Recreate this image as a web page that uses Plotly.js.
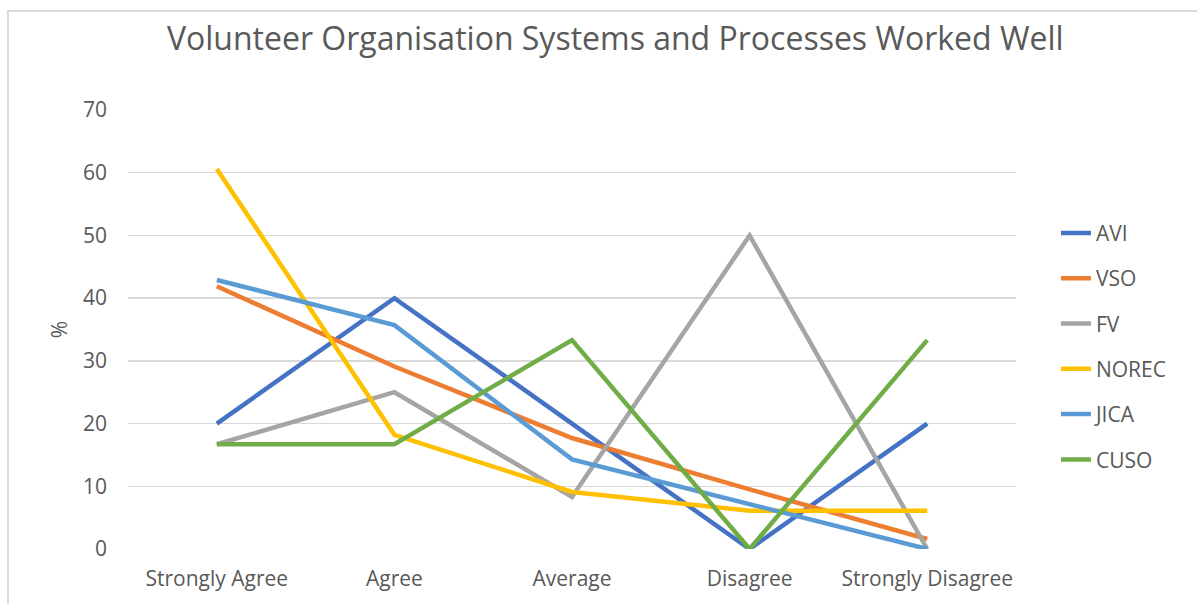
<!DOCTYPE html>
<html>
<head>
<meta charset="utf-8">
<script src="https://cdn.plot.ly/plotly-3.0.1.min.js"></script>
<style>
  html, body { margin: 0; padding: 0; background: #fff; }
  #chart { width: 1197px; height: 604px; }
</style>
</head>
<body>
<div id="chart"></div>
<script>
// categories (answers)
const categories = ['Strongly Agree', 'Agree', 'Average', 'Disagree', 'Strongly Disagree'];

// percentages per organisation
const avi = [20, 40, 20, 0, 20];
const vso = [41.9, 29.1, 17.7, 9.5, 1.6];
const fv = [16.7, 25, 8.3, 50, 0];
const norec = [60.6, 18.2, 9.1, 6.1, 6.1];
const jica = [42.9, 35.7, 14.3, 7.1, 0];
const cuso = [16.7, 16.7, 33.3, 0, 33.3];

const seriesNames = ['AVI', 'VSO', 'FV', 'NOREC', 'JICA', 'CUSO'];
const seriesValues = [avi, vso, fv, norec, jica, cuso];
const seriesColors = ['#4472C4', '#ED7D31', '#A5A5A5', '#FFC000', '#5B9BD5', '#70AD47'];

const font = 'Open Sans, Liberation Sans, sans-serif';
const textColor = '#595959';
const gridColor = '#d9d9d9';

const traces = seriesNames.map(function (name, i) {
    return {
        x: categories,
        y: seriesValues[i],
        mode: 'lines',
        name: name,
        legendgroup: name,
        line: {color: seriesColors[i], width: 4.5}
    };
});

const layout = {
    width: 1197,
    height: 604,
    margin: {l: 128, r: 181, t: 110, b: 55},
    paper_bgcolor: '#fff',
    plot_bgcolor: '#fff',
    font: {family: font, color: textColor, size: 21},
    title: {
        text: 'Volunteer Organisation Systems and Processes Worked Well',
        font: {family: font, size: 32, color: textColor},
        x: 0.514,
        xanchor: 'center',
        y: 0.935,
        yanchor: 'middle'
    },
    xaxis: {
        type: 'category',
        range: [-0.5, 4.5],
        showgrid: false,
        showline: false,
        zeroline: false,
        ticks: '',
        ticklabelstandoff: 15,
        tickfont: {family: font, size: 21, color: textColor}
    },
    yaxis: {
        range: [0, 70],
        dtick: 10,
        showgrid: true,
        gridcolor: gridColor,
        gridwidth: 1.5,
        zeroline: false,
        showline: false,
        ticks: '',
        ticklabelstandoff: 20,
        tickfont: {family: font, size: 21, color: textColor},
        title: {text: '%', standoff: 9, font: {family: font, size: 21, color: textColor}}
    },
    legend: {
        x: 1.045,
        xanchor: 'left',
        y: 0.766,
        yanchor: 'top',
        font: {family: font, size: 21, color: textColor},
        tracegroupgap: 15,
        bgcolor: 'rgba(0,0,0,0)'
    },
    shapes: [{
        type: 'rect',
        xref: 'paper',
        yref: 'paper',
        x0: -0.1351,
        x1: 1.25,
        y0: -0.2,
        y1: 1.2255,
        line: {color: gridColor, width: 2},
        layer: 'below'
    }],
    showlegend: true
};

Plotly.newPlot('chart', traces, layout, {displayModeBar: false, staticPlot: true});
</script>
</body>
</html>
